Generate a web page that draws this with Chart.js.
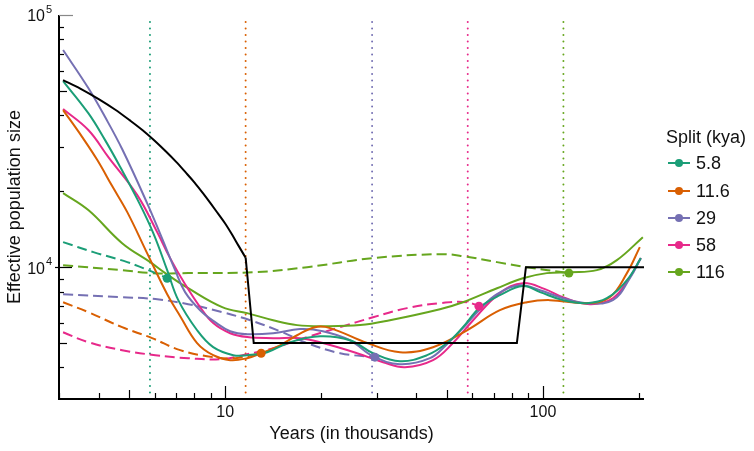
<!DOCTYPE html>
<html>
<head>
<meta charset="utf-8">
<script src="https://cdn.jsdelivr.net/npm/chart.js@4.4.1/dist/chart.umd.min.js"></script>
<style>
  body { margin: 0; background: #fff; font-family: "Liberation Sans", Arial, sans-serif; }
  #wrap { position: relative; width: 754px; height: 451px; }
  #legend div { position: absolute; }
  .lab { font-size: 18px; line-height: 18px; color: #111; white-space: nowrap; }
</style>
</head>
<body>
<div id="wrap">
  <canvas id="chart" width="754" height="451"></canvas>
  <div id="legend"></div>
</div>
<script>
// Splits (kya) and colours
const splits = [5.8, 11.6, 29, 58, 116];
const splitLabels = ['5.8', '11.6', '29', '58', '116'];
const colors = ['#1b9e77', '#d95f02', '#7570b3', '#e7298a', '#66a61e'];

// Modelo verdadero (línea negra): tramo de crecimiento y tramo escalonado
const modelCurveX = [3.09, 3.5, 4, 4.5, 5, 5.5, 6, 6.5, 7, 7.5, 8, 8.5, 9, 9.5, 10, 10.5, 11, 11.6];
const modelCurveY = [55200, 51100, 46400, 42200, 38300, 34900, 31700, 28800, 26200, 23800, 21700, 19700, 17900, 16300, 14900, 13500, 12200, 10900];
const modelStepX = [11.6, 12.3, 82.8, 88.4, 208];
const modelStepY = [10900, 5000, 5000, 10000, 10000];

// Curvas sólidas
const tealX = [3.09, 3.71, 4.19, 4.68, 5.29, 5.94, 6.57, 7.12, 8.16, 9.17, 10.6, 11.73, 13.56, 16.0, 19.9, 24.7, 29.2, 35.5, 43.2, 49.9, 56.0, 63.4, 73.2, 86.5, 97.9, 115.6, 137.5, 158.9, 183.8, 203.3];
const tealY = [54700, 40800, 31900, 24900, 18610, 13650, 9730, 7400, 5620, 4815, 4476, 4476, 4600, 5040, 5320, 5130, 4558, 4236, 4476, 5000, 5780, 6940, 7740, 8410, 7960, 7400, 7200, 7530, 8880, 10860];

const orangeX = [3.09, 3.55, 3.96, 4.41, 4.92, 5.68, 6.57, 7.22, 8.16, 9.17, 10.37, 11.73, 12.98, 14.89, 16.84, 19.19, 21.4, 28.0, 35.5, 45.1, 57.7, 73.2, 89.0, 105.2, 137.5, 162.4, 183.8, 201.8];
const orangeY = [41980, 32800, 26590, 20960, 16530, 11370, 7810, 6390, 5000, 4476, 4276, 4355, 4558, 4900, 5370, 5780, 5730, 5000, 4600, 4815, 5620, 6750, 7260, 7400, 7200, 7600, 9470, 12010];

const purpleX = [3.09, 3.71, 4.19, 4.74, 5.68, 6.25, 6.96, 7.48, 8.34, 9.30, 10.37, 11.73, 14.16, 17.21, 20.3, 24.7, 29.2, 35.5, 44.1, 49.9, 56.0, 63.4, 71.7, 84.7, 97.9, 115.6, 137.5, 166, 187.8, 203.3];
const purpleY = [72620, 51320, 39370, 29400, 17950, 13520, 9730, 7960, 6750, 6050, 5570, 5420, 5470, 5680, 5570, 5130, 4435, 4122, 4355, 4950, 5730, 6810, 7810, 8480, 8100, 7530, 7200, 7400, 9040, 10860];

const pinkX = [3.09, 3.71, 4.29, 5.29, 6.11, 6.71, 7.48, 8.34, 9.17, 10.37, 11.73, 14.16, 17.21, 20.3, 26.0, 31.4, 36.8, 45.1, 52.1, 60.3, 73.2, 86.5, 101.5, 115.6, 140.6, 166, 187.8, 203.3];
const pinkY = [42360, 34980, 27320, 19310, 13770, 10860, 8560, 6940, 6000, 5470, 5280, 5230, 5230, 5000, 4558, 4198, 4010, 4276, 5000, 6160, 7890, 8640, 8180, 7600, 7130, 7530, 9130, 10860];

const greenX = [3.09, 3.71, 4.74, 5.81, 6.48, 7.65, 9.79, 11.73, 14.16, 16.84, 20.3, 26.6, 33.0, 47.4, 56.0, 71.7, 86.5, 102.9, 121.6, 147.8, 170.9, 206.3];
const greenY = [19670, 16840, 12450, 10470, 9470, 8250, 6940, 6570, 6160, 5890, 5830, 5890, 6160, 6810, 7260, 8250, 9040, 9470, 9550, 9730, 10660, 13150];

// Curvas discontinuas (antes de la separación)
const tealDashX = [3.09, 3.85, 4.92, 5.94, 6.57];
const tealDashY = [12570, 11470, 10470, 9550, 9040];
const orangeDashX = [3.09, 3.71, 4.74, 5.89, 7.22, 9.17, 10.75, 12.98];
const orangeDashY = [7260, 6630, 5780, 5230, 4686, 4395, 4355, 4558];
const purpleDashX = [3.09, 4.74, 6.03, 7.65, 9.79, 11.99, 14.89, 18.11, 23.0, 29.6];
const purpleDashY = [7810, 7600, 7470, 7130, 6630, 6160, 5570, 5000, 4558, 4395];
const pinkDashX = [3.09, 3.71, 4.74, 6.03, 7.65, 9.79, 11.73, 14.16, 18.11, 23.0, 29.2, 37.35, 47.4, 57.7, 62.9];
const pinkDashY = [5520, 5040, 4686, 4476, 4355, 4315, 4517, 4770, 5280, 5780, 6330, 6880, 7200, 7260, 7000];
const greenDashX = [3.09, 4.74, 5.89, 7.65, 12.43, 18.11, 29.2, 47.4, 56.0, 71.7, 89.0, 120.7];
const greenDashY = [10180, 9730, 9470, 9470, 9550, 10000, 10860, 11260, 11060, 10470, 10000, 9470];

// Puntos de separación
const dotX = [6.57, 12.98, 29.6, 62.9, 120.7];
const dotY = [9040, 4558, 4395, 7000, 9470];

// Ejes
const xTickVals = [3, 4, 5, 6, 7, 8, 9, 10, 20, 30, 40, 50, 60, 70, 80, 90, 100, 200];
const xLabelVals = [10, 100];
const yTickVals = [4000, 5000, 6000, 7000, 8000, 9000, 10000, 20000, 30000, 40000, 50000, 60000, 70000, 80000, 90000, 100000];
const yLabelExps = [4, 5];
const vlineTop = 95000;
const vlineBottom = 3000;

function pts(xs, ys) {
    return xs.map((x, i) => ({ x: x, y: ys[i] }));
}

const solidX = [tealX, orangeX, purpleX, pinkX, greenX];
const solidY = [tealY, orangeY, purpleY, pinkY, greenY];
const dashX = [tealDashX, orangeDashX, purpleDashX, pinkDashX, greenDashX];
const dashY = [tealDashY, orangeDashY, purpleDashY, pinkDashY, greenDashY];

const datasets = [];

// puntos encima de todo (el primer dataset se dibuja al final)
datasets.push({
    data: pts(dotX, dotY),
    showLine: false,
    pointRadius: 4.5,
    pointBackgroundColor: colors,
    pointBorderColor: colors,
    pointBorderWidth: 0
});

datasets.push({
    data: pts(modelCurveX, modelCurveY),
    showLine: true,
    borderColor: '#000',
    borderWidth: 2,
    cubicInterpolationMode: 'monotone',
    pointRadius: 0
});
datasets.push({
    data: pts(modelStepX, modelStepY),
    showLine: true,
    borderColor: '#000',
    borderWidth: 2,
    tension: 0,
    pointRadius: 0
});

for (let i = 0; i < 5; i++) {
    datasets.push({
        data: pts(solidX[i], solidY[i]),
        showLine: true,
        borderColor: colors[i],
        borderWidth: 2,
        tension: 0.4,
        pointRadius: 0
    });
}

for (let i = 0; i < 5; i++) {
    datasets.push({
        data: pts(dashX[i], dashY[i]),
        showLine: true,
        borderColor: colors[i],
        borderWidth: 2,
        borderDash: [10, 5],
        tension: 0.4,
        pointRadius: 0
    });
}

for (let i = 0; i < 5; i++) {
    datasets.push({
        data: [{ x: splits[i], y: vlineBottom }, { x: splits[i], y: vlineTop }],
        showLine: true,
        borderColor: colors[i],
        borderWidth: 2,
        borderDash: [0, 6.5],
        borderCapStyle: 'round',
        pointRadius: 0
    });
}

const FONT = '"Liberation Sans", Arial, sans-serif';

// Dibujar ejes, marcas y títulos con las escalas de Chart.js
const axesPlugin = {
    id: 'axes',
    afterDraw(chart) {
        const ctx = chart.ctx;
        const a = chart.chartArea;
        const xs = chart.scales.x;
        const ys = chart.scales.y;
        ctx.save();
        ctx.strokeStyle = '#000';
        ctx.lineWidth = 2;
        ctx.beginPath();
        ctx.moveTo(a.left, a.top);
        ctx.lineTo(a.left, a.bottom);
        ctx.lineTo(a.right, a.bottom);
        ctx.stroke();

        ctx.lineWidth = 1.2;
        xTickVals.forEach(v => {
            const px = Math.round(xs.getPixelForValue(v)) + 0.5;
            let len = 6;
            if (xLabelVals.includes(v)) len = 13;
            else if (v === 5 || v === 50) len = 9;
            ctx.beginPath();
            ctx.moveTo(px, a.bottom);
            ctx.lineTo(px, a.bottom - len);
            ctx.stroke();
        });

        yTickVals.forEach(v => {
            const py = Math.round(ys.getPixelForValue(v)) + 0.5;
            ctx.beginPath();
            if (v === 100000) {
                ctx.strokeStyle = '#888';
                ctx.moveTo(a.left, py);
                ctx.lineTo(a.left + 14, py);
            } else if (v === 10000) {
                ctx.strokeStyle = '#000';
                ctx.moveTo(a.left - 4, py);
                ctx.lineTo(a.left + 13, py);
            } else {
                ctx.strokeStyle = '#000';
                ctx.moveTo(a.left, py);
                ctx.lineTo(a.left + (v === 5000 || v === 50000 ? 8 : 5), py);
            }
            ctx.stroke();
        });

        ctx.fillStyle = '#111';
        ctx.textBaseline = 'middle';
        ctx.textAlign = 'center';
        ctx.font = '16px ' + FONT;
        xLabelVals.forEach(v => {
            ctx.fillText(String(v), xs.getPixelForValue(v), 413);
        });

        yLabelExps.forEach(e => {
            const py = ys.getPixelForValue(Math.pow(10, e));
            ctx.textAlign = 'right';
            ctx.font = '16px ' + FONT;
            ctx.fillText('10', 45, py + 2);
            ctx.textAlign = 'left';
            ctx.font = '11px ' + FONT;
            ctx.fillText(String(e), 46, py - 5);
        });

        ctx.font = '18px ' + FONT;
        ctx.textAlign = 'center';
        ctx.fillText('Years (in thousands)', (a.left + a.right) / 2, 434);
        ctx.translate(15, (a.top + a.bottom) / 2);
        ctx.rotate(-Math.PI / 2);
        ctx.fillText('Effective population size', 0, 0);
        ctx.restore();
    }
};

new Chart(document.getElementById('chart').getContext('2d'), {
    type: 'scatter',
    data: { datasets: datasets },
    options: {
        responsive: false,
        animation: false,
        devicePixelRatio: 1,
        layout: { padding: { left: 59, top: 15, right: 110, bottom: 52 } },
        plugins: { legend: { display: false }, tooltip: { enabled: false } },
        scales: {
            x: { type: 'logarithmic', min: 3, max: 208, display: false },
            y: { type: 'logarithmic', min: 3000, max: 100000, display: false }
        }
    },
    plugins: [axesPlugin]
});

// Leyenda
const legend = document.getElementById('legend');
const title = document.createElement('div');
title.className = 'lab';
title.style.left = '666px';
title.style.top = '128px';
title.textContent = 'Split (kya)';
legend.appendChild(title);
const legendY = [163, 191, 218, 245, 272];
splitLabels.forEach((t, i) => {
    const cy = legendY[i];
    const line = document.createElement('div');
    line.style.cssText = `left:668px;top:${cy - 1}px;width:22px;height:2px;background:${colors[i]}`;
    const dot = document.createElement('div');
    dot.style.cssText = `left:675px;top:${cy - 4}px;width:8px;height:8px;border-radius:50%;background:${colors[i]}`;
    const lab = document.createElement('div');
    lab.className = 'lab';
    lab.style.left = '696px';
    lab.style.top = (cy - 9) + 'px';
    lab.textContent = t;
    legend.appendChild(line);
    legend.appendChild(dot);
    legend.appendChild(lab);
});
</script>
</body>
</html>
